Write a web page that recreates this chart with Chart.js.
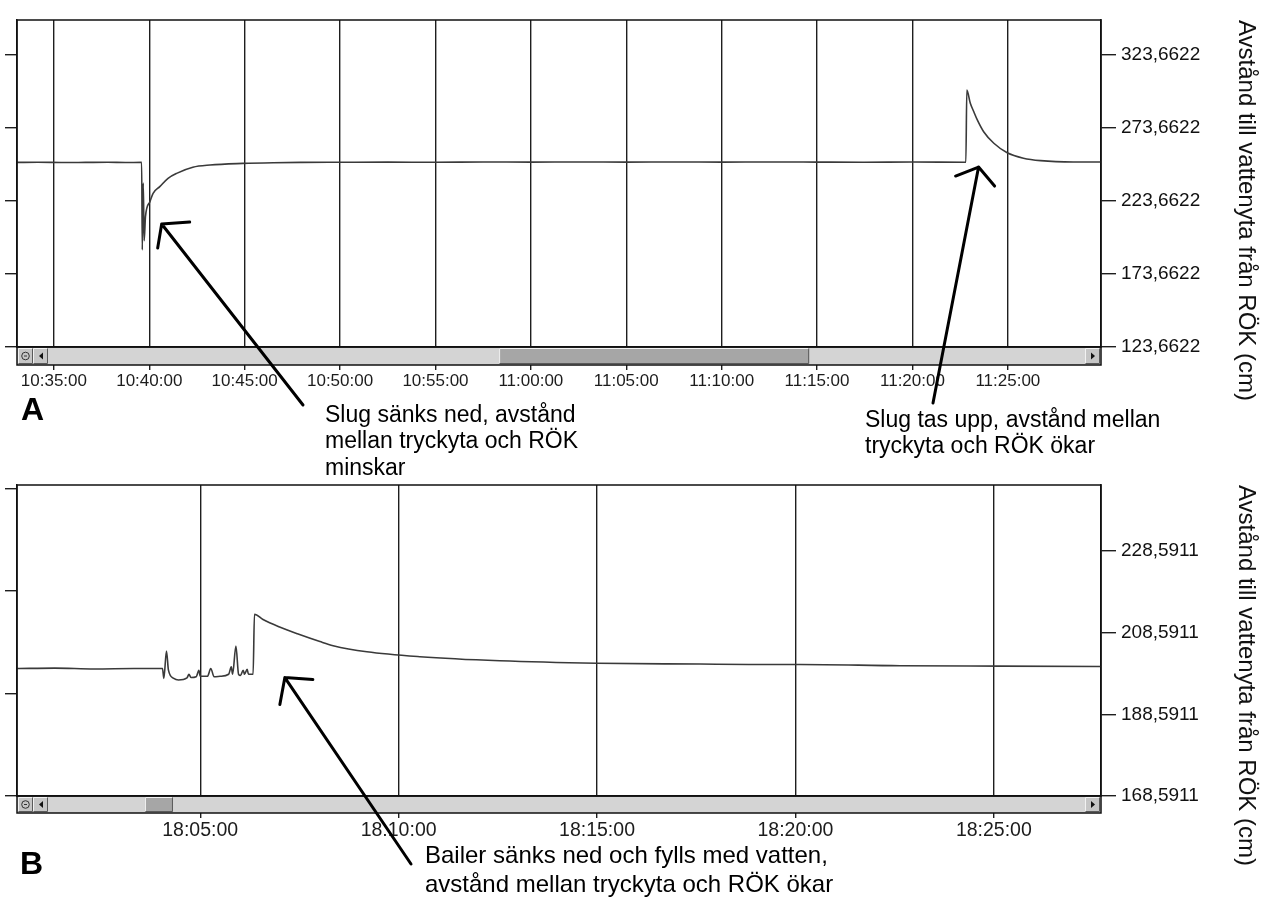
<!DOCTYPE html>
<html lang="sv">
<head>
<meta charset="utf-8">
<title>Avstånd till vattenyta från RÖK</title>
<script src="https://cdn.jsdelivr.net/npm/chart.js@4.4.1/dist/chart.umd.min.js"></script>
<style>
  html, body { margin: 0; padding: 0; background: #fff; }
  body { width: 1264px; height: 898px; position: relative; overflow: hidden; }
  canvas { position: absolute; left: 0; }
  #chartA { top: 0; }
  #chartB { top: 450px; }
</style>
</head>
<body>
<canvas id="chartA" width="1264" height="482"></canvas>
<canvas id="chartB" width="1264" height="448"></canvas>
<script>
// --- PANEL A: slug test ---
const timesA = ['10:33:04','10:34:10','10:35:30','10:36:40','10:37:50','10:38:45','10:39:36','10:39:38','10:39:41','10:39:44',
  '10:39:48','10:40:02','10:40:12','10:40:33','10:40:59','10:41:26','10:42:17','10:43:11','10:44:54','10:46:30',
  '10:48:00','10:50:00','10:52:30','10:55:00','10:57:30','11:00:00','11:02:30','11:05:00','11:07:30','11:10:00',
  '11:12:30','11:15:00','11:17:30','11:20:00','11:22:48','11:22:51','11:23:02','11:23:13','11:23:24','11:23:44',
  '11:24:16','11:24:58','11:25:49','11:26:43','11:28:26','11:29:53'];
const levelA = [250.1, 250.2, 250.0, 250.1, 250.2, 250.0, 250.1, 190.2, 236.0, 196.5,
  212.9, 223.2, 228.9, 233.5, 239.2, 242.6, 246.8, 248.3, 249.4, 249.9,
  250.1, 250.2, 250.3, 250.2, 250.4, 250.3, 250.4, 250.3, 250.4, 250.3,
  250.4, 250.3, 250.2, 250.4, 250.2, 299.7, 290.6, 284.8, 279.2, 271.1,
  263.2, 256.7, 253.0, 251.3, 250.4, 250.4];
const xTicksA = ['10:35:00','10:40:00','10:45:00','10:50:00','10:55:00','11:00:00','11:05:00','11:10:00','11:15:00','11:20:00','11:25:00'];
const xRangeA = ['10:33:04', '11:29:53'];
const yTicksA = [123.6622, 173.6622, 223.6622, 273.6622, 323.6622];
const yRangeA = [123.6622, 347.63];

// --- PANEL B: bailer test ---
const timesB = ['18:00:23','18:01:20','18:02:20','18:03:20','18:04:03','18:04:05','18:04:09','18:04:12','18:04:20','18:04:27',
  '18:04:40','18:04:43','18:04:46','18:04:54','18:04:58','18:05:00','18:05:11','18:05:16','18:05:21','18:05:30',
  '18:05:43','18:05:47','18:05:49','18:05:54','18:05:58','18:06:01','18:06:05','18:06:07','18:06:11','18:06:13',
  '18:06:20','18:06:22','18:06:35','18:07:01','18:07:27','18:08:01','18:08:21','18:09:12','18:10:32','18:12:33',
  '18:15:00','18:17:36','18:18:50','18:20:07','18:22:38','18:25:09','18:27:42'];
const levelB = [199.8, 199.9, 199.7, 199.8, 199.8, 197.4, 204.1, 199.4, 197.4, 197.0,
  197.5, 198.4, 197.6, 197.8, 199.4, 197.9, 197.9, 199.8, 197.8, 197.9,
  198.4, 200.2, 198.4, 205.3, 198.4, 198.1, 199.4, 198.4, 199.6, 198.4,
  198.4, 213.1, 211.8, 209.9, 208.3, 206.4, 205.4, 203.9, 202.7, 201.7,
  201.1, 200.9, 200.8, 200.8, 200.5, 200.4, 200.3];
const xTicksB = ['18:05:00','18:10:00','18:15:00','18:20:00','18:25:00'];
const xRangeB = ['18:00:23', '18:27:42'];
const yTicksB = [168.5911, 188.5911, 208.5911, 228.5911];
const yRangeB = [168.5911, 244.75];
const leftTicksB = [0, 1, 2, 3];
const leftRangeB = [0, 3.034];

const yTitle = 'Avstånd till vattenyta från RÖK (cm)';
const FONT = "'Liberation Sans', Arial, Helvetica, sans-serif";

function toSec(t) {
    const p = t.split(':').map(Number);
    return p[0] * 3600 + p[1] * 60 + p[2];
}
function fmtTime(s) {
    const pad = n => String(n).padStart(2, '0');
    return pad(Math.floor(s / 3600)) + ':' + pad(Math.floor(s / 60) % 60) + ':' + pad(Math.round(s % 60));
}
function fmtNum(v) {
    return v.toFixed(4).replace('.', ',');
}
const setTicks = list => scale => { scale.ticks = list.map(v => ({ value: v })); };

function bevel(ctx, x, y, w, h, fill) {
    ctx.fillStyle = fill;
    ctx.fillRect(x, y, w, h);
    ctx.lineWidth = 1;
    ctx.strokeStyle = '#f2f2f2';
    ctx.beginPath();
    ctx.moveTo(x + 0.5, y + h - 0.5); ctx.lineTo(x + 0.5, y + 0.5); ctx.lineTo(x + w - 0.5, y + 0.5);
    ctx.stroke();
    ctx.strokeStyle = '#5a5a5a';
    ctx.beginPath();
    ctx.moveTo(x + w - 0.5, y + 0.5); ctx.lineTo(x + w - 0.5, y + h - 0.5); ctx.lineTo(x + 0.5, y + h - 0.5);
    ctx.stroke();
}

// scrollbar strip, frame, arrows and notes
const panelDecor = {
    id: 'panelDecor',
    afterDraw(chart, args, o) {
        const ctx = chart.ctx;
        const { left, right, top, bottom } = chart.chartArea;
        const h = o.barHeight;
        ctx.save();

        ctx.fillStyle = '#d4d4d4';
        ctx.fillRect(left, bottom, right - left, h);
        const trackL = left + 31, trackR = right - 16;
        const t0 = trackL + (trackR - trackL) * o.thumb[0];
        const t1 = trackL + (trackR - trackL) * o.thumb[1];
        bevel(ctx, t0, bottom + 1, t1 - t0, h - 2, '#a6a6a6');
        bevel(ctx, left + 1, bottom + 1, 15, h - 2, '#c6c6c6');
        bevel(ctx, left + 16, bottom + 1, 15, h - 2, '#c6c6c6');
        bevel(ctx, right - 16, bottom + 1, 15, h - 2, '#c6c6c6');

        const cy = bottom + h / 2;
        ctx.strokeStyle = '#333';
        ctx.lineWidth = 1;
        ctx.beginPath();
        ctx.arc(left + 8.5, cy, 3.8, 0, Math.PI * 2);
        ctx.stroke();
        ctx.fillStyle = '#333';
        ctx.fillRect(left + 7, cy - 0.5, 3, 1);
        ctx.fillStyle = '#111';
        ctx.beginPath();
        ctx.moveTo(left + 26, cy - 3.5); ctx.lineTo(left + 26, cy + 3.5); ctx.lineTo(left + 22, cy);
        ctx.fill();
        ctx.beginPath();
        ctx.moveTo(right - 10, cy - 3.5); ctx.lineTo(right - 10, cy + 3.5); ctx.lineTo(right - 6, cy);
        ctx.fill();

        ctx.strokeStyle = '#111';
        ctx.lineWidth = 1.5;
        ctx.strokeRect(left, bottom, right - left, h);
        ctx.strokeRect(left, top, right - left, bottom - top);

        // hand-drawn arrows: tip in data units, tail in pixels
        const xs = chart.scales.x, ys = chart.scales.y;
        ctx.strokeStyle = '#000';
        ctx.lineWidth = 3;
        ctx.lineCap = 'round';
        o.arrows.forEach(a => {
            const tx = xs.getPixelForValue(toSec(a.t));
            const ty = ys.getPixelForValue(a.v);
            ctx.beginPath();
            ctx.moveTo(a.tail[0], a.tail[1]);
            ctx.lineTo(tx, ty);
            a.arms.forEach(d => { ctx.moveTo(tx, ty); ctx.lineTo(tx + d[0], ty + d[1]); });
            ctx.stroke();
        });

        ctx.fillStyle = '#000';
        ctx.textBaseline = 'alphabetic';
        ctx.textAlign = 'left';
        o.notes.forEach(n => {
            ctx.font = n.size + 'px ' + FONT;
            n.lines.forEach((line, i) => ctx.fillText(line, n.x, n.y + i * n.gap));
        });
        ctx.font = 'bold ' + o.letter.size + 'px ' + FONT;
        ctx.fillText(o.letter.text, o.letter.x, o.letter.y);
        ctx.restore();
    }
};

Chart.defaults.font.family = FONT;

function buildPanel(id, p) {
    const points = p.times.map((t, i) => ({ x: toSec(t), y: p.levels[i] }));
    return new Chart(document.getElementById(id), {
        type: 'line',
        data: {
            datasets: [{
                data: points,
                borderColor: '#3a3a3a',
                borderWidth: 1.6,
                pointRadius: 0,
                cubicInterpolationMode: 'monotone',
                yAxisID: 'y'
            }]
        },
        options: {
            responsive: false,
            animation: false,
            devicePixelRatio: 1,
            layout: { padding: { top: p.padTop, left: 0, right: 0, bottom: 0 } },
            plugins: {
                legend: { display: false },
                tooltip: { enabled: false },
                panelDecor: p.decor
            },
            scales: {
                x: {
                    type: 'linear',
                    position: 'bottom',
                    min: toSec(p.xRange[0]),
                    max: toSec(p.xRange[1]),
                    afterBuildTicks: setTicks(p.xTicks.map(toSec)),
                    afterFit: s => { s.height = p.xHeight; },
                    ticks: {
                        callback: v => fmtTime(v),
                        font: { size: p.xFont },
                        color: '#1c1c1c',
                        padding: 1,
                        maxRotation: 0,
                        autoSkip: false
                    },
                    grid: { color: '#1e1e1e', lineWidth: 1.4, tickLength: p.xTickLen },
                    border: { color: '#111', width: 1.5 }
                },
                y: {
                    type: 'linear',
                    position: 'right',
                    min: p.yRange[0],
                    max: p.yRange[1],
                    afterBuildTicks: setTicks(p.yTicks),
                    afterFit: s => { s.width = 163; },
                    ticks: { callback: v => fmtNum(v), font: { size: 19 }, color: '#111', padding: 5 },
                    grid: { drawOnChartArea: false, tickLength: 15, color: '#1e1e1e', lineWidth: 1.4 },
                    border: { color: '#111', width: 1.5 },
                    title: {
                        display: true,
                        text: yTitle,
                        align: 'end',
                        color: '#111',
                        font: { size: 24 },
                        padding: { top: 4, bottom: 0 }
                    }
                },
                yL: {
                    type: 'linear',
                    position: 'left',
                    min: p.leftRange[0],
                    max: p.leftRange[1],
                    afterBuildTicks: setTicks(p.leftTicks),
                    afterFit: s => { s.width = 17; },
                    ticks: { display: false },
                    grid: { drawOnChartArea: false, tickLength: 12, color: '#1e1e1e', lineWidth: 1.4 },
                    border: { color: '#111', width: 1.5 }
                }
            }
        },
        plugins: [panelDecor]
    });
}

buildPanel('chartA', {
    times: timesA, levels: levelA,
    xTicks: xTicksA, xRange: xRangeA,
    yTicks: yTicksA, yRange: yRangeA,
    leftTicks: yTicksA, leftRange: yRangeA,
    padTop: 20, xHeight: 135, xFont: 17, xTickLen: 23,
    decor: {
        barHeight: 18,
        thumb: [0.435, 0.734],
        letter: { text: 'A', x: 21, y: 420, size: 32 },
        arrows: [
            { t: '10:40:39', v: 207.9, tail: [303, 405], arms: [[28, -2], [-4, 24]] },
            { t: '11:23:28', v: 246.9, tail: [933, 403], arms: [[-23, 9], [16, 19]] }
        ],
        notes: [
            { x: 325, y: 421.7, size: 23, gap: 26.7, lines: ['Slug sänks ned, avstånd', 'mellan tryckyta och RÖK', 'minskar'] },
            { x: 865, y: 426.7, size: 23, gap: 26.7, lines: ['Slug tas upp, avstånd mellan', 'tryckyta och RÖK ökar'] }
        ]
    }
});

buildPanel('chartB', {
    times: timesB, levels: levelB,
    xTicks: xTicksB, xRange: xRangeB,
    yTicks: yTicksB, yRange: yRangeB,
    leftTicks: leftTicksB, leftRange: leftRangeB,
    padTop: 35, xHeight: 102, xFont: 19.5, xTickLen: 22,
    decor: {
        barHeight: 17,
        thumb: [0.0935, 0.1205],
        letter: { text: 'B', x: 20, y: 424, size: 32 },
        arrows: [
            { t: '18:07:08', v: 197.6, tail: [411, 414], arms: [[28, 2], [-5, 27]] }
        ],
        notes: [
            { x: 425, y: 413.3, size: 24, gap: 28.4, lines: ['Bailer sänks ned och fylls med vatten,', 'avstånd mellan tryckyta och RÖK ökar'] }
        ]
    }
});
</script>
</body>
</html>
